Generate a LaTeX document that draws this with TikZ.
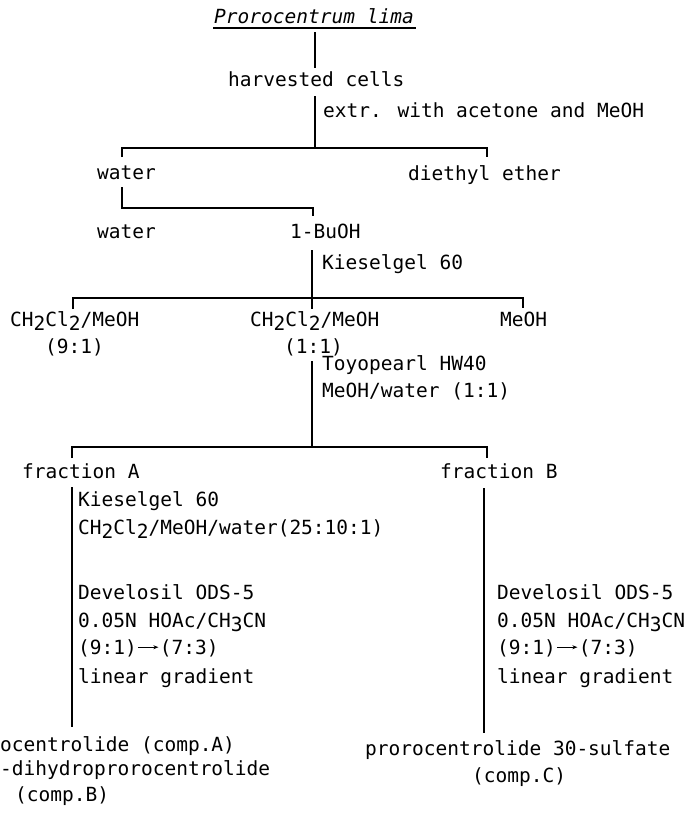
\documentclass[tikz,border=0pt]{standalone}
\usepackage{fontspec}
\usetikzlibrary{arrows.meta}
\newfontfamily\labfont{DejaVu Sans Mono}
% lowered subscript digit, same size as the text
\newcommand\dn[1]{\raisebox{-0.45ex}{#1}}
% gradient arrow between two solvent ratios
\newcommand\gradarrow{\hspace{1pt}\tikz[baseline=-0.65ex]\draw[line width=0.9pt,-{Stealth[length=5pt,width=4pt]}] (0pt,0pt)--(20pt,0pt);\hspace{1pt}}
\begin{document}
\begin{tikzpicture}[x=1pt,y=-1pt,
  lab/.style={inner sep=0pt, anchor=mid west, yshift=-4pt, font=\labfont\fontsize{19.5}{21}\selectfont},
  tree/.style={line width=1.8pt, line cap=butt, line join=miter}]
\useasboundingbox (0,0) rectangle (692,815);

% ---- source and extraction ----
\node[lab, yshift=2pt, font=\labfont\fontsize{19.5}{21}\selectfont\itshape] (title) at (214,19) {Prorocentrum lima};
\draw[line width=1.5pt] ([yshift=-5pt,xshift=-1pt]title.base west) -- ([yshift=-5pt,xshift=2pt]title.base east);
\node[lab] (cells) at (228,80) {harvested cells};
\node[lab] (extr) at (323,111) {extr. with acetone and MeOH};
\coordinate (t0) at (315,32);
\coordinate (t1) at (315,68);
\draw[tree] (t0) -- (t1);
\coordinate (c0) at (315,96);
\coordinate (c1) at (315,148);
\coordinate (cL) at (122,157);
\coordinate (cR) at (487,157);
\draw[tree] (c0) -- (c1);
\draw[tree] (cL) |- (c1) -| (cR);

% ---- partition ----
\node[lab] (water1) at (97,173) {water};
\node[lab] (ether) at (408,174) {diethyl ether};
\coordinate (w0) at (122,187);
\coordinate (w1) at (122,208);
\coordinate (wR) at (313,216);
\draw[tree] (w0) -- (w1) -| (wR);
\node[lab] (water2) at (97,232) {water};
\node[lab] (buoh) at (290,232) {1-BuOH};

% ---- silica gel column ----
\coordinate (b0) at (312,250);
\coordinate (b1) at (312,298);
\coordinate (b2) at (312,309);
\coordinate (bL) at (73,309);
\coordinate (bR) at (523,308);
\draw[tree] (b0) -- (b2);
\draw[tree] (bL) |- (b1) -| (bR);
\node[lab] (kg1) at (322,263) {Kieselgel 60};
\node[lab] (cm1) at (10,320) {CH\dn{2}Cl\dn{2}/MeOH};
\node[lab] (r91) at (45,347) {(9:1)};
\node[lab] (cm2) at (250,320) {CH\dn{2}Cl\dn{2}/MeOH};
\node[lab] (r11) at (284,347) {(1:1)};
\node[lab] (meoh) at (500,320) {MeOH};

% ---- gel filtration ----
\coordinate (g0) at (312,361);
\coordinate (g1) at (312,447);
\coordinate (gL) at (72,458);
\coordinate (gR) at (487,458);
\draw[tree] (g0) -- (g1);
\draw[tree] (gL) |- (g1) -| (gR);
\node[lab] (toyo) at (322,364) {Toyopearl HW40};
\node[lab] (mw) at (322,391) {MeOH/water (1:1)};
\node[lab] (fa) at (22,472) {fraction A};
\node[lab] (fb) at (440,472) {fraction B};

% ---- fraction A ----
\coordinate (a0) at (72,487);
\coordinate (a1) at (72,727);
\draw[tree] (a0) -- (a1);
\node[lab] (ak1) at (78,500) {Kieselgel 60};
\node[lab] (ak2) at (78,528) {CH\dn{2}Cl\dn{2}/MeOH/water(25:10:1)};
\node[lab] (ad1) at (78,593) {Develosil ODS-5};
\node[lab] (ad2) at (78,621) {0.05N HOAc/CH\dn{3}CN};
\node[lab] (ad3) at (78,648) {(9:1)\gradarrow(7:3)};
\node[lab] (ad4) at (78,677) {linear gradient};
\node[lab] (pa) at (0,745) {ocentrolide (comp.A)};
\node[lab] (pb) at (0,769) {-dihydroprorocentrolide};
\node[lab] (pb2) at (15,795) {(comp.B)};

% ---- fraction B ----
\coordinate (f0) at (484,488);
\coordinate (f1) at (484,733);
\draw[tree] (f0) -- (f1);
\node[lab] (bd1) at (497,593) {Develosil ODS-5};
\node[lab] (bd2) at (497,621) {0.05N HOAc/CH\dn{3}CN};
\node[lab] (bd3) at (497,648) {(9:1)\gradarrow(7:3)};
\node[lab] (bd4) at (497,677) {linear gradient};
\node[lab] (pc) at (365,749) {prorocentrolide 30-sulfate};
\node[lab] (pc2) at (472,776) {(comp.C)};
\end{tikzpicture}
\end{document}
